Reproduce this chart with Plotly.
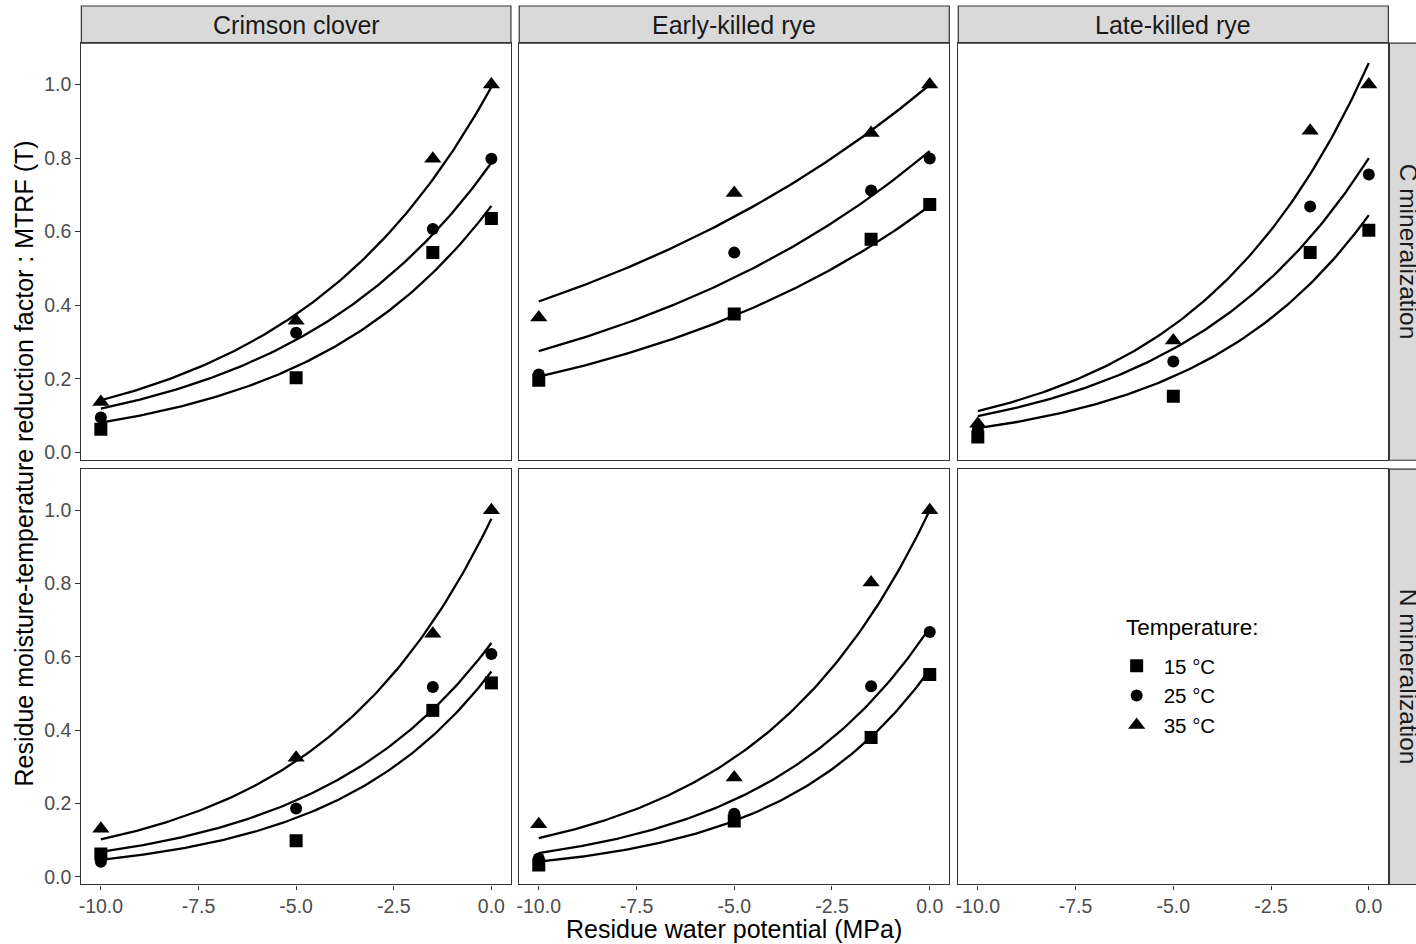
import numpy as np
import plotly.graph_objects as go

# ---- data -------------------------------------------------------------
WATER_POTENTIAL = [-10.0, -5.0, -1.5, 0.0]          # MPa
TEMPERATURES = ["15 °C", "25 °C", "35 °C"]
RESIDUES = ["Crimson clover", "Early-killed rye", "Late-killed rye"]
PROCESSES = ["C mineralization", "N mineralization"]
Y_TICKS = [0.0, 0.2, 0.4, 0.6, 0.8, 1.0]
Y_TICK_TEXT = ["0.0", "0.2", "0.4", "0.6", "0.8", "1.0"]
X_TICKS = [-10.0, -7.5, -5.0, -2.5, 0.0]
X_TICK_TEXT = ["-10.0", "-7.5", "-5.0", "-2.5", "0.0"]

# observed MTRF, one row per temperature (15, 25, 35 °C)
C_CRIMSON = [[0.063, 0.203, 0.543, 0.636],
             [0.095, 0.325, 0.607, 0.798],
             [0.137, 0.358, 0.798, 1.000]]
C_EARLY_RYE = [[0.196, 0.376, 0.579, 0.674],
               [0.212, 0.543, 0.712, 0.799],
               [0.367, 0.705, 0.868, 1.000]]
C_LATE_RYE = [[0.042, 0.153, 0.543, 0.604],
              [0.062, 0.247, 0.668, 0.755],
              [0.078, 0.304, 0.874, 1.000]]
N_CRIMSON = [[0.062, 0.098, 0.454, 0.529],
             [0.041, 0.186, 0.518, 0.608],
             [0.131, 0.325, 0.663, 1.000]]
N_EARLY_RYE = [[0.032, 0.152, 0.380, 0.552],
               [0.050, 0.172, 0.520, 0.668],
               [0.143, 0.271, 0.803, 1.000]]

# fitted model MTRF = a * exp(k * psi), one (a, k) per temperature
FIT_A_C_CRIMSON = [0.670, 0.787, 0.993]
FIT_K_C_CRIMSON = [0.211, 0.189, 0.1945]
FIT_A_C_EARLY_RYE = [0.670, 0.819, 0.999]
FIT_K_C_EARLY_RYE = [0.118, 0.109, 0.089]
FIT_A_C_LATE_RYE = [0.645, 0.800, 1.058]
FIT_K_C_LATE_RYE = [0.228, 0.209, 0.224]
FIT_A_N_CRIMSON = [0.560, 0.638, 0.977]
FIT_K_N_CRIMSON = [0.250, 0.224, 0.226]
FIT_A_N_EARLY_RYE = [0.565, 0.680, 1.000]
FIT_K_N_EARLY_RYE = [0.262, 0.235, 0.225]

# panel contents: (row, col) -> (observed, fit_a, fit_k); (1, 2) stays empty
PANELS = {
    (0, 0): (C_CRIMSON, FIT_A_C_CRIMSON, FIT_K_C_CRIMSON),
    (0, 1): (C_EARLY_RYE, FIT_A_C_EARLY_RYE, FIT_K_C_EARLY_RYE),
    (0, 2): (C_LATE_RYE, FIT_A_C_LATE_RYE, FIT_K_C_LATE_RYE),
    (1, 0): (N_CRIMSON, FIT_A_N_CRIMSON, FIT_K_N_CRIMSON),
    (1, 1): (N_EARLY_RYE, FIT_A_N_EARLY_RYE, FIT_K_N_EARLY_RYE),
}

# ---- layout geometry (pixels) ----------------------------------------
W, H = 1416, 944
COL_PX = [(78.5, 509.0), (517.3, 948.3), (957.3, 1388.3)]
ROW_PX = [(43.3, 461.7), (470.7, 887.3)]
STRIP_TOP = (6.0, 43.3)
STRIP_RIGHT_X = (1389.3, 1430.0)

FONT = "Liberation Sans, Arial, sans-serif"
BORDER = "#333333"
SYMBOLS = ["square", "circle", "triangle-up"]
SIZES = [13, 12, 15]


def px_x(x):
    return x / W


def px_y(y):
    return 1 - y / H


fig = go.Figure()
psi_grid = np.linspace(-10, 0, 121)

for r in range(2):
    for c in range(3):
        idx = r * 3 + c + 1
        xa = "x" if idx == 1 else f"x{idx}"
        ya = "y" if idx == 1 else f"y{idx}"
        if (r, c) in PANELS:
            obs, fa, fk = PANELS[(r, c)]
            for t in range(3):
                fig.add_trace(go.Scatter(
                    x=psi_grid, y=fa[t] * np.exp(fk[t] * psi_grid),
                    mode="lines", line=dict(color="black", width=2.3),
                    showlegend=False, hoverinfo="skip", xaxis=xa, yaxis=ya))
            for t in range(3):
                fig.add_trace(go.Scatter(
                    x=WATER_POTENTIAL, y=obs[t], mode="markers",
                    name=TEMPERATURES[t], legendgroup=TEMPERATURES[t],
                    showlegend=(idx == 1),
                    marker=dict(symbol=SYMBOLS[t], size=SIZES[t], color="black",
                                line=dict(width=0)),
                    xaxis=xa, yaxis=ya))
        else:
            # keep the empty facet's axes alive
            fig.add_trace(go.Scatter(x=[None], y=[None], showlegend=False,
                                     hoverinfo="skip", xaxis=xa, yaxis=ya))

layout = dict(
    width=W, height=H,
    margin=dict(l=0, r=0, t=0, b=0),
    paper_bgcolor="white", plot_bgcolor="white",
    font=dict(family=FONT, color="black"),
    showlegend=True,
)

for r in range(2):
    for c in range(3):
        idx = r * 3 + c + 1
        sfx = "" if idx == 1 else str(idx)
        x0, x1 = COL_PX[c]
        y0, y1 = ROW_PX[r]
        bottom = r == 1
        left = c == 0
        layout[f"xaxis{sfx}"] = dict(
            domain=[px_x(x0), px_x(x1)], range=[-10.5, 0.5],
            anchor=f"y{sfx}", showgrid=False, zeroline=False,
            showline=True, mirror=True, linecolor=BORDER, linewidth=1.2,
            tickvals=X_TICKS, ticktext=X_TICK_TEXT,
            ticks="outside" if bottom else "", ticklen=4, tickwidth=1.2,
            tickcolor=BORDER, showticklabels=bottom,
            tickfont=dict(family=FONT, size=19.5, color="#4D4D4D"),
        )
        layout[f"yaxis{sfx}"] = dict(
            domain=[px_y(y1), px_y(y0)], range=[-0.021, 1.112],
            anchor=f"x{sfx}", showgrid=False, zeroline=False,
            showline=True, mirror=True, linecolor=BORDER, linewidth=1.2,
            tickvals=Y_TICKS, ticktext=Y_TICK_TEXT,
            ticks="outside" if left else "", ticklen=5, tickwidth=1.2,
            tickcolor=BORDER, showticklabels=left,
            tickfont=dict(family=FONT, size=19.5, color="#4D4D4D"),
        )

shapes = []
annotations = []

# column strips
for c, name in enumerate(RESIDUES):
    x0, x1 = COL_PX[c]
    shapes.append(dict(type="rect", xref="paper", yref="paper",
                       x0=px_x(x0), x1=px_x(x1),
                       y0=px_y(STRIP_TOP[1]), y1=px_y(STRIP_TOP[0]),
                       fillcolor="#D9D9D9", line=dict(color=BORDER, width=1.2),
                       layer="below"))
    annotations.append(dict(text=name, xref="paper", yref="paper",
                            x=px_x((x0 + x1) / 2),
                            y=px_y(sum(STRIP_TOP) / 2),
                            showarrow=False, xanchor="center", yanchor="middle",
                            font=dict(family=FONT, size=25, color="#1A1A1A")))

# row strips (text runs past the page edge, as the strip does)
for r, name in enumerate(PROCESSES):
    y0, y1 = ROW_PX[r]
    shapes.append(dict(type="rect", xref="paper", yref="paper",
                       x0=px_x(STRIP_RIGHT_X[0]), x1=px_x(STRIP_RIGHT_X[1]),
                       y0=px_y(y1), y1=px_y(y0),
                       fillcolor="#D9D9D9", line=dict(color=BORDER, width=1.2),
                       layer="below"))
    annotations.append(dict(text=name, xref="paper", yref="paper",
                            x=px_x(1408), y=px_y((y0 + y1) / 2),
                            textangle=90, showarrow=False,
                            xanchor="center", yanchor="middle",
                            font=dict(family=FONT, size=24.5, color="#1A1A1A")))

# axis titles
annotations.append(dict(text="Residue water potential (MPa)", xref="paper",
                        yref="paper", x=px_x(733), y=px_y(932),
                        showarrow=False, xanchor="center", yanchor="middle",
                        font=dict(family=FONT, size=25, color="black")))
annotations.append(dict(text="Residue moisture-temperature reduction factor : MTRF (T)",
                        xref="paper", yref="paper", x=px_x(21), y=px_y(465),
                        textangle=-90, showarrow=False,
                        xanchor="center", yanchor="middle",
                        font=dict(family=FONT, size=25, color="black")))

# legend heading
annotations.append(dict(text="Temperature:", xref="paper", yref="paper",
                        x=px_x(1123), y=px_y(630), showarrow=False,
                        xanchor="left", yanchor="middle",
                        font=dict(family=FONT, size=22.5, color="black")))

layout["shapes"] = shapes
layout["annotations"] = annotations
layout["legend"] = dict(
    x=px_x(1109), y=px_y(648), xanchor="left", yanchor="top",
    bgcolor="rgba(0,0,0,0)", borderwidth=0, itemwidth=44,
    font=dict(family=FONT, size=20.5, color="black"),
    traceorder="normal",
)

fig.update_layout(**layout)
fig.write_html("out.html")
